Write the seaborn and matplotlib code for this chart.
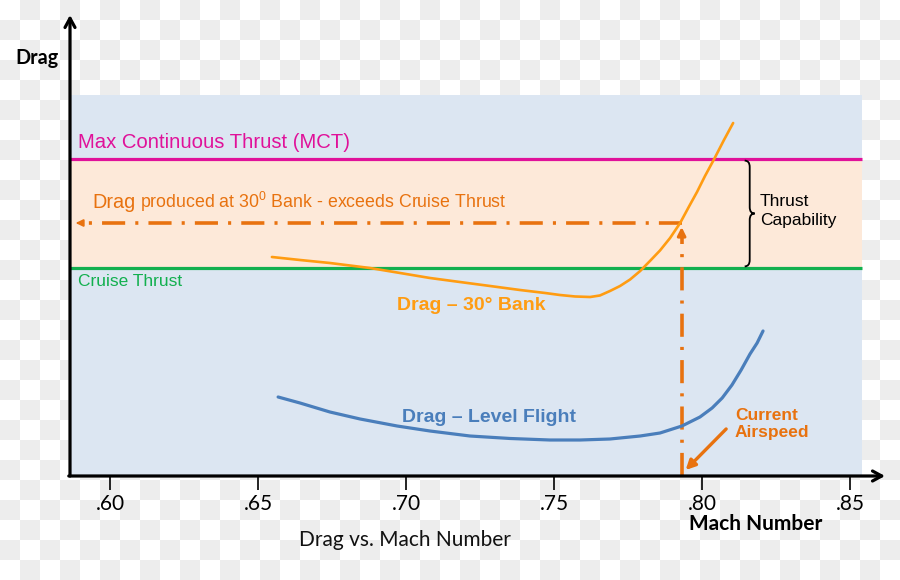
import numpy as np
import matplotlib
matplotlib.use('Agg')
import matplotlib.pyplot as plt
import seaborn as sns
from matplotlib.path import Path
from matplotlib.patches import PathPatch

# ---------------- data ----------------
mach_ticks = [0.60, 0.65, 0.70, 0.75, 0.80, 0.85]
tick_labels = ['.60', '.65', '.70', '.75', '.80', '.85']

bank_mach = [0.6546, 0.6641, 0.6742, 0.6877, 0.6979, 0.7080, 0.7181, 0.7283,
             0.7384, 0.7469, 0.7519, 0.7570, 0.7621, 0.7654, 0.7688, 0.7722,
             0.7756, 0.7790, 0.7823, 0.7857, 0.7891, 0.7925, 0.7955, 0.7982,
             0.8009, 0.8040, 0.8073, 0.8104]
bank_drag = [54.75, 54.0, 53.25, 52.0, 50.75, 49.5, 48.5, 47.5,
             46.5, 45.75, 45.25, 44.88, 44.75, 45.13, 46.25, 47.5,
             49.13, 51.25, 53.75, 56.38, 59.5, 63.25, 67.38, 71.0,
             75.0, 79.25, 84.0, 88.25]

level_mach = [0.6567, 0.6641, 0.6742, 0.6844, 0.6969, 0.7080, 0.7215, 0.7350,
              0.7485, 0.7587, 0.7688, 0.7790, 0.7857, 0.7931, 0.7992, 0.8033,
              0.8067, 0.8100, 0.8131, 0.8161, 0.8185, 0.8205]
level_drag = [19.75, 18.25, 16.0, 14.25, 12.5, 11.25, 10.0, 9.38,
              9.0, 9.0, 9.25, 10.0, 10.75, 12.5, 14.75, 17.0,
              19.5, 22.75, 26.5, 30.5, 33.25, 36.25]

mct_thrust = 79.25
cruise_thrust = 52.0
current_mach = 0.793
bank_drag_current = 63.25

x_min, x_max = 0.5864, 0.8617
chart_right = 0.854
chart_top = 95.25
y_max = 115.25

# ---------------- colours ----------------
C_BG = '#dce6f2'
C_BAND = '#fde9d9'
C_MCT = '#e0119a'
C_CRUISE = '#12b04f'
C_BANK = '#ff9c12'
C_LEVEL = '#4a7ebb'
C_DASH = '#e8720f'

sns.set_theme(style='white')
plt.rcParams['font.family'] = ['Liberation Sans', 'DejaVu Sans']
plt.rcParams['mathtext.fontset'] = 'custom'
plt.rcParams['mathtext.rm'] = 'Liberation Sans'
plt.rcParams['mathtext.it'] = 'Liberation Sans:italic'
plt.rcParams['mathtext.bf'] = 'Liberation Sans:bold'

fig = plt.figure(figsize=(9, 5.8), dpi=100)

# transparent-look checkerboard background
H, W = 580, 900
yy, xx = np.mgrid[0:H, 0:W]
board = np.where(((xx // 20) + (yy // 20)) % 2 == 1, 0.93, 1.0)
fig.figimage(np.dstack([board] * 3), xo=0, yo=0, origin='upper', zorder=-10)

ax = fig.add_axes([70 / 900, 1 - 476 / 580, (885 - 70) / 900, (476 - 15) / 580])
ax.patch.set_alpha(0)
ax.set_xlim(x_min, x_max)
ax.set_ylim(0, y_max)
for s in ax.spines.values():
    s.set_visible(False)

# background panel and thrust band
ax.fill_between([x_min, chart_right], 0, chart_top, color=C_BG, lw=0, zorder=0)
ax.fill_between([x_min, chart_right], cruise_thrust, mct_thrust, color=C_BAND, lw=0, zorder=0.5)
ax.plot([x_min, chart_right], [mct_thrust] * 2, color=C_MCT, lw=2.3, zorder=2, solid_capstyle='butt')
ax.plot([x_min, chart_right], [cruise_thrust] * 2, color=C_CRUISE, lw=2.3, zorder=2, solid_capstyle='butt')

# curves
sns.lineplot(x=bank_mach, y=bank_drag, ax=ax, color=C_BANK, lw=1.9, zorder=4)
sns.lineplot(x=level_mach, y=level_drag, ax=ax, color=C_LEVEL, lw=2.3, zorder=4)

# dash-dot guides
dd = (0, (6.4, 2.8, 0.85, 2.8))
x_arrow_end = 0.5874
ax.plot([current_mach, x_arrow_end + 0.002], [bank_drag_current] * 2, color=C_DASH, lw=2.6,
        linestyle=dd, zorder=3, dash_capstyle='butt')
ax.annotate('', xy=(x_arrow_end, bank_drag_current), xytext=(x_arrow_end + 0.003, bank_drag_current),
            arrowprops=dict(arrowstyle='-|>', color=C_DASH, lw=1.5, mutation_scale=10), zorder=3)
ax.plot([current_mach, current_mach], [0, bank_drag_current - 2.5], color=C_DASH, lw=2.6,
        linestyle=dd, zorder=3, dash_capstyle='butt')
ax.annotate('', xy=(current_mach, bank_drag_current - 0.3), xytext=(current_mach, bank_drag_current - 4),
            arrowprops=dict(arrowstyle='-|>', color=C_DASH, lw=2.2, mutation_scale=12), zorder=3)

# current airspeed arrow
ax.annotate('', xy=(0.7937, 1.0), xytext=(0.8087, 12.25),
            arrowprops=dict(arrowstyle='-|>', color=C_DASH, lw=2.4, mutation_scale=14), zorder=5)

# axes arrows
ax.annotate('', xy=(0, 1), xytext=(0, 0), xycoords='axes fraction', textcoords='axes fraction',
            arrowprops=dict(arrowstyle='->, head_length=0.55, head_width=0.3', color='black', lw=2.3,
                            shrinkA=0, shrinkB=0), zorder=6, annotation_clip=False)
ax.annotate('', xy=(1, 0), xytext=(-0.0015, 0), xycoords='axes fraction', textcoords='axes fraction',
            arrowprops=dict(arrowstyle='->, head_length=0.55, head_width=0.3', color='black', lw=2.3,
                            shrinkA=0, shrinkB=0), zorder=6, annotation_clip=False)

# ticks
ax.set_xticks(mach_ticks, tick_labels)
ax.set_yticks([])
ax.tick_params(axis='x', bottom=True, direction='out', length=10, width=1.2, pad=3,
               labelsize=15, color='black', labelcolor='black')
for lab in ax.get_xticklabels():
    lab.set_family('Lato')

# brace
bx0 = 0.8143
bw = 0.0034
yt, yb = mct_thrust - 0.4, cruise_thrust + 0.4
ym = (yt + yb) / 2
r = 1.6
verts = [(bx0, yt), (bx0 + bw / 2, yt), (bx0 + bw / 2, yt - r),
         (bx0 + bw / 2, ym + r),
         (bx0 + bw / 2, ym), (bx0 + bw, ym),
         (bx0 + bw / 2, ym), (bx0 + bw / 2, ym - r),
         (bx0 + bw / 2, yb + r),
         (bx0 + bw / 2, yb), (bx0, yb)]
codes = [Path.MOVETO, Path.CURVE3, Path.CURVE3, Path.LINETO, Path.CURVE3, Path.CURVE3,
         Path.CURVE3, Path.CURVE3, Path.LINETO, Path.CURVE3, Path.CURVE3]
ax.add_patch(PathPatch(Path(verts, codes), fill=False, edgecolor='black', lw=1.3, zorder=5))

# texts
ax.text(0.5891, 83.5, 'Max Continuous Thrust (MCT)', color=C_MCT, fontsize=14.6, va='center', ha='left')
ax.text(0.5891, 48.5, 'Cruise Thrust', color=C_CRUISE, fontsize=12.5, va='center', ha='left')
t1 = ax.text(0.5941, 67.0, 'Drag', color=C_DASH, fontsize=14.3, va='baseline', ha='left')
fig.canvas.draw()
ext = t1.get_window_extent()
x2 = ax.transData.inverted().transform((ext.x1 + 4, 0))[0]
ax.text(x2, 67.0, r'produced at 30$^{\mathrm{0}}$ Bank - exceeds Cruise Thrust', color=C_DASH,
        fontsize=12.75, va='baseline', ha='left')
ax.text(0.7220, 42.5, 'Drag – 30° Bank', color=C_BANK, fontsize=14, weight='bold', ha='center', va='center')
ax.text(0.7279, 14.75, 'Drag – Level Flight', color=C_LEVEL, fontsize=14, weight='bold', ha='center', va='center')
ax.text(0.8110, 13.0, 'Current\nAirspeed', color=C_DASH, fontsize=12.5, weight='bold', ha='left', va='center',
        linespacing=1.25)
ax.text(0.8194, 66.25, 'Thrust\nCapability', color='black', fontsize=12.5, ha='left', va='center',
        linespacing=1.25)

fig.text(37 / 900, 1 - 58 / 580, 'Drag', family='Lato', weight='bold', fontsize=14.2,
         ha='center', va='center', color='black')
fig.text(756 / 900, 1 - 524.5 / 580, 'Mach Number', family='Lato', weight='bold', fontsize=15,
         ha='center', va='center', color='black')
fig.text(405 / 900, 1 - 540 / 580, 'Drag vs. Mach Number', family='Lato', fontsize=15,
         ha='center', va='center', color='#111111')

fig.savefig('out.png', dpi=100)
